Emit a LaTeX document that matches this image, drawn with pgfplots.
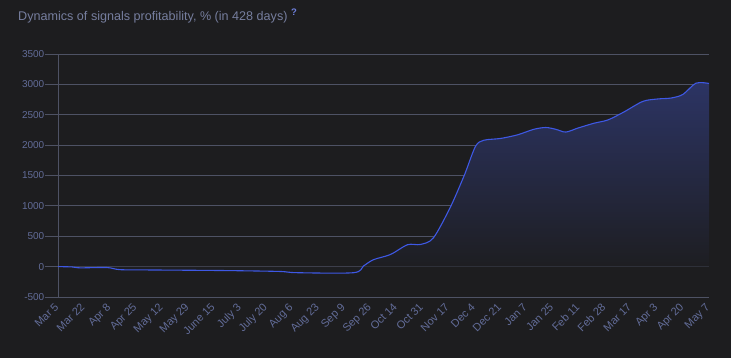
\documentclass[border=0pt]{standalone}
\usepackage{pgfplots}
\pgfplotsset{compat=1.18}
\usepackage{fontspec}
\setmainfont{Liberation Sans}
\definecolor{bg}{RGB}{29,29,31}
\definecolor{gridc}{RGB}{78,82,100}
\definecolor{txt}{RGB}{98,108,152}
\definecolor{ttl}{RGB}{118,126,158}
\definecolor{linec}{RGB}{62,88,228}
\definecolor{fillt}{RGB}{44,52,100}
\definecolor{qm}{RGB}{110,128,220}
\begin{document}
\begin{tikzpicture}
\fill[bg] (-58pt,-61pt) rectangle (673pt,297pt);
\node[anchor=base west, font=\fontsize{12.6}{14}\selectfont, text=ttl, inner sep=0pt] at (-40pt,276pt) {Dynamics of signals profitability, \% (in 428 days)};
\node[anchor=base west, font=\bfseries\fontsize{9.5}{10}\selectfont, text=qm, inner sep=0pt] at (233pt,281pt) {?};
\begin{axis}[
  at={(0,0)}, anchor=south west,
  scale only axis, width=651pt, height=243pt,
  xmin=0, xmax=25, ymin=-500, ymax=3500,
  xtick={0,...,25},
  xticklabels={Mar 5,Mar 22,Apr 8,Apr 25,May 12,May 29,June 15,July 3,July 20,Aug 6,Aug 23,Sep 9,Sep 26,Oct 14,Oct 31,Nov 17,Dec 4,Dec 21,Jan 7,Jan 25,Feb 11,Feb 28,Mar 17,Apr 3,Apr 20,May 7},
  ytick={-500,0,500,1000,1500,2000,2500,3000,3500},
  /pgf/number format/assume math mode=true,
  /pgf/number format/1000 sep={},
  ymajorgrids, grid style={gridc, line width=0.8pt},
  axis line style={gridc, line width=0.8pt},
  axis x line*=bottom, axis y line*=left,
  tick align=outside,
  ytick style={gridc, line width=0.8pt},
  major tick length=13pt,
  xtick style={draw=none},
  yticklabel style={font=\fontsize{10}{11}\selectfont, text=txt, inner sep=0.5pt},
  xticklabel style={font=\fontsize{11}{12}\selectfont, text=txt, rotate=45, anchor=north east, inner sep=0.5pt, yshift=9pt, xshift=3pt},
]
\addplot[draw=none, top color=fillt, bottom color=bg, smooth] coordinates {
(0,0) (0.54,-5) (0.85,-20) (1.88,-15) (2.38,-50) (3.54,-55) (5.73,-62) (7,-68) (8.54,-80) (9.19,-100) (11.35,-100) (11.73,10) (12.12,115) (12.77,200) (13.42,360) (13.92,365) (14.42,475) (15.08,990) (15.58,1480) (15.69,1600) (16.04,1985) (16.35,2080) (17,2110) (17.65,2170) (18.27,2260) (18.73,2290) (19.12,2260) (19.5,2215) (19.96,2280) (20.58,2360) (21.12,2415) (21.73,2545) (22.46,2720) (23.04,2760) (23.54,2775) (24,2835) (24.5,3020) (25,3015)
} \closedcycle;
\addplot[linec, line width=1.1pt, smooth] coordinates {
(0,0) (0.54,-5) (0.85,-20) (1.88,-15) (2.38,-50) (3.54,-55) (5.73,-62) (7,-68) (8.54,-80) (9.19,-100) (11.35,-100) (11.73,10) (12.12,115) (12.77,200) (13.42,360) (13.92,365) (14.42,475) (15.08,990) (15.58,1480) (15.69,1600) (16.04,1985) (16.35,2080) (17,2110) (17.65,2170) (18.27,2260) (18.73,2290) (19.12,2260) (19.5,2215) (19.96,2280) (20.58,2360) (21.12,2415) (21.73,2545) (22.46,2720) (23.04,2760) (23.54,2775) (24,2835) (24.5,3020) (25,3015)
};
\end{axis}
\end{tikzpicture}
\end{document}
